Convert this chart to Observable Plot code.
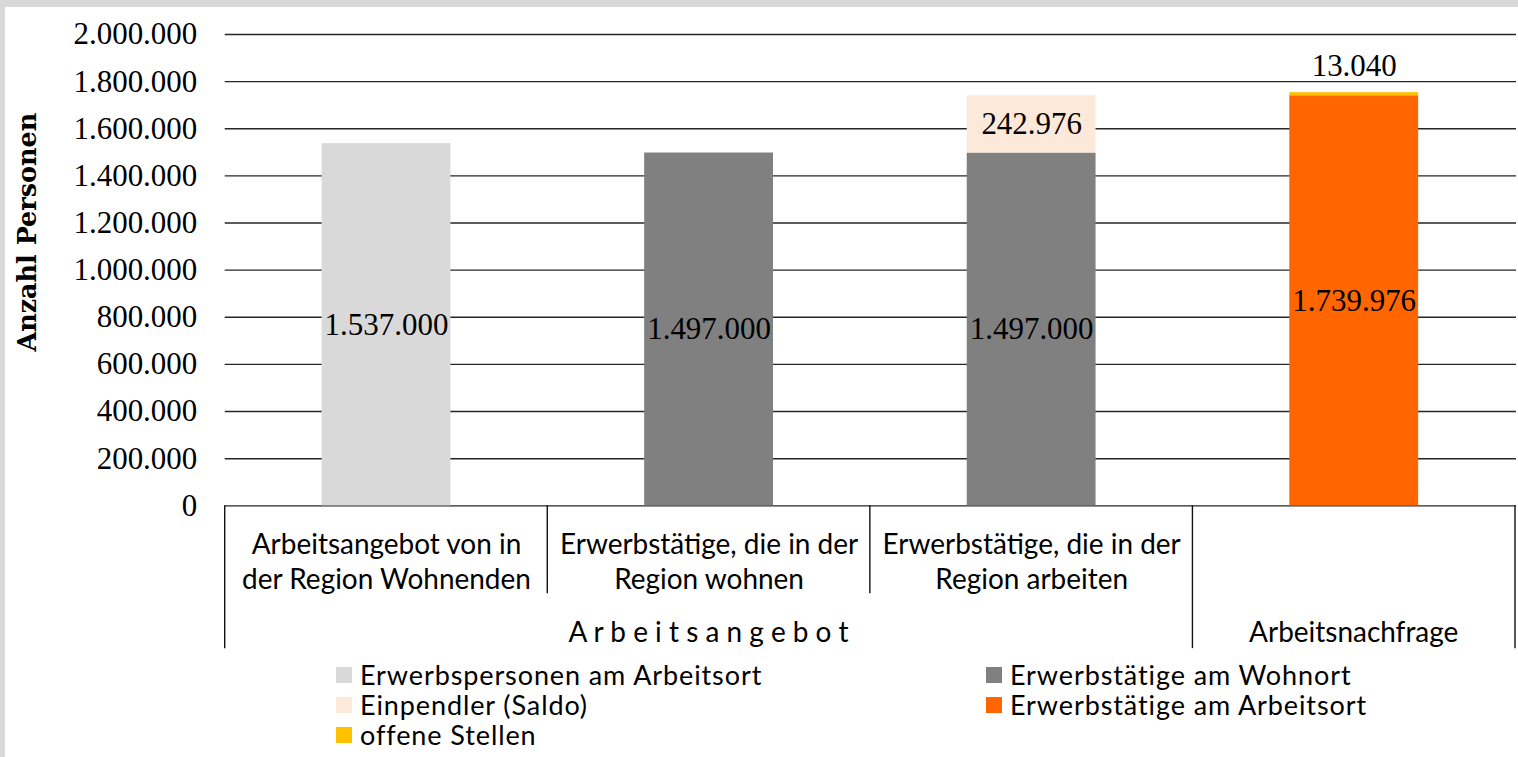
<!DOCTYPE html>
<html>
<head>
<meta charset="utf-8">
<script src="https://cdn.jsdelivr.net/npm/d3@7"></script>
<script src="https://cdn.jsdelivr.net/npm/@observablehq/plot@0.6"></script>
<style>
  html, body { margin: 0; padding: 0; overflow: hidden; background: #d9d9d9; }
  #panel { position: absolute; left: 5px; top: 7px; width: 1513px; height: 750px; background: #fff; }
  #legend { position: absolute; left: 331px; top: 653px; display: grid; grid-template-columns: 650px auto; grid-auto-rows: 30px;
            font-family: Lato, "Open Sans", sans-serif; font-size: 27px; letter-spacing: 0.9px; color: #000; }
  #legend .item { display: flex; align-items: center; white-space: nowrap; height: 30px; overflow: visible; }
  #legend .item span { display: block; height: 30px; line-height: 30px; overflow: visible; }
  #legend .sw { width: 16px; height: 16px; margin-right: 8px; flex: none; }
</style>
</head>
<body>
<div id="panel">
  <div id="chart"></div>
  <div id="legend"></div>
</div>
<script>
// ---- data ----
const categoryIds = ["wohnende", "wohnen", "arbeiten", "nachfrage"];
const categoryLine1 = ["Arbeitsangebot von in", "Erwerbstätige, die in der", "Erwerbstätige, die in der", ""];
const categoryLine2 = ["der Region Wohnenden", "Region wohnen", "Region arbeiten", ""];
const groupLabels = ["A r b e i t s a n g e b o t", "Arbeitsnachfrage"];
const groupFirst = [0, 3];
const groupLast = [2, 3];

const seriesNames = ["Erwerbspersonen am Arbeitsort", "Erwerbstätige am Wohnort", "Einpendler (Saldo)", "Erwerbstätige am Arbeitsort", "offene Stellen"];
const seriesColors = ["#d9d9d9", "#808080", "#fde9d9", "#ff6600", "#ffc000"];
const erwerbspersonenArbeitsort = [1537000, 0, 0, 0];
const erwerbstaetigeWohnort = [0, 1497000, 1497000, 0];
const einpendlerSaldo = [0, 0, 242976, 0];
const erwerbstaetigeArbeitsort = [0, 0, 0, 1739976];
const offeneStellen = [0, 0, 0, 13040];
const seriesValues = [erwerbspersonenArbeitsort, erwerbstaetigeWohnort, einpendlerSaldo, erwerbstaetigeArbeitsort, offeneStellen];

const yTicks = [0, 200000, 400000, 600000, 800000, 1000000, 1200000, 1400000, 1600000, 1800000, 2000000];
const yLabel = "Anzahl Personen";
const legendOrder = [0, 1, 2, 3, 4];

// ---- build ----
const de = d3.formatLocale({decimal: ",", thousands: ".", grouping: [3], currency: ["", " €"]});
const fmt = de.format(",d");

const rows = [];
seriesNames.forEach((s, si) => {
  categoryIds.forEach((c, ci) => {
    const v = seriesValues[si][ci];
    if (v > 0) rows.push({cat: c, series: s, value: v});
  });
});
const topSeries = "offene Stellen";

const serif = "'Liberation Serif', 'DejaVu Serif', serif";
const sans = "Lato, 'Open Sans', sans-serif";

function decor(index, scales, values, dims) {
  const x = scales.x;
  const n = categoryIds.length;
  const step = x.step ? x.step() : (dims.width - dims.marginLeft - dims.marginRight) / n;
  const bw = x.bandwidth ? x.bandwidth() : step * 0.4;
  const base = dims.height - dims.marginBottom;
  const g = d3.create("svg:g");
  const bounds = categoryIds.map(c => x(c) - (step - bw) / 2);
  bounds.push(bounds[n - 1] + step);
  bounds.forEach((b, i) => {
    const long = groupFirst.includes(i) || i === n;
    g.append("line")
      .attr("x1", b).attr("x2", b)
      .attr("y1", base).attr("y2", base + (long ? 143 : 88))
      .attr("stroke", "#111").attr("stroke-width", 1.4);
  });
  groupLabels.forEach((lab, k) => {
    const cx = (bounds[groupFirst[k]] + bounds[groupLast[k] + 1]) / 2;
    g.append("text")
      .attr("x", cx).attr("y", base + 127).attr("dy", "0.35em")
      .attr("text-anchor", "middle")
      .attr("font-family", sans).attr("font-size", 28).attr("fill", "#000")
      .text(lab);
  });
  return g.node();
}

const plot = Plot.plot({
  width: 1515,
  height: 660,
  marginTop: 27,
  marginLeft: 220,
  marginRight: 2,
  marginBottom: 161,
  style: {fontFamily: serif, fontSize: "31px", color: "#000", background: "transparent", overflow: "visible"},
  x: {domain: categoryIds, paddingInner: 0.6, paddingOuter: 0.3, axis: null},
  y: {domain: [0, 2000000], axis: null},
  color: {domain: seriesNames, range: seriesColors},
  marks: [
    Plot.gridY(yTicks, {stroke: "#1a1a1a", strokeOpacity: 0.95, strokeWidth: 1.4}),
    Plot.axisY(yTicks, {tickSize: 0, tickPadding: 28, tickFormat: fmt, fontSize: 31, fontFamily: serif, label: null}),
    Plot.barY(rows, Plot.stackY({x: "cat", y: "value", z: "series", fill: "series"})),
    Plot.text(rows, Plot.stackY({x: "cat", y: "value", z: "series",
      text: d => d.series === topSeries ? "" : fmt(d.value), fontSize: 31, fontFamily: serif, fill: "#000"})),
    Plot.text(rows, Plot.stackY2({x: "cat", y: "value", z: "series",
      text: d => d.series === topSeries ? fmt(d.value) : "", dy: -27, fontSize: 31, fontFamily: serif, fill: "#000"})),
    Plot.text(categoryIds, {x: d => d, frameAnchor: "bottom", text: (d, i) => categoryLine1[i] + "\n" + categoryLine2[i],
      lineAnchor: "middle", lineHeight: 1.25, dy: 54.5, fontFamily: sans, fontSize: 28, fill: "#000"}),
    Plot.text([yLabel], {frameAnchor: "left", rotate: -90, textAnchor: "middle", dx: -198, dy: -38,
      fontFamily: "'DejaVu Serif', serif", fontWeight: "bold", fontSize: 25.5, fill: "#000"}),
    decor
  ]
});
document.getElementById("chart").appendChild(plot);

const legend = d3.select("#legend");
legendOrder.forEach(i => {
  const it = legend.append("div").attr("class", "item");
  it.append("div").attr("class", "sw").style("background", seriesColors[i]);
  it.append("span").text(seriesNames[i]);
});
</script>
</body>
</html>
